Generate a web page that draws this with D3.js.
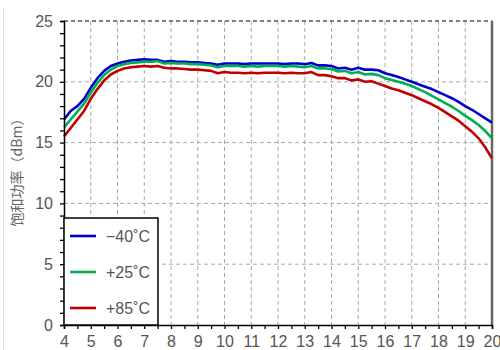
<!DOCTYPE html>
<html>
<head>
<meta charset="utf-8">
<script src="https://cdn.jsdelivr.net/npm/d3@7"></script>
<style>
  body { margin: 0; background: #fff; }
  text { font-family: "Liberation Sans", Arial, sans-serif; }
</style>
</head>
<body>
<svg id="svg"></svg>
<script>
const width = 500;
const height = 350;
const margin = { top: 21, right: 8, bottom: 25, left: 64 };

// frequency (GHz), 0.25 step
const freq = d3.range(0, 65).map(i => 4 + i * 0.25);

const series40 = [16.9, 17.6, 18.0, 18.6, 19.5, 20.3, 20.9, 21.3, 21.5, 21.65, 21.75, 21.8, 21.85, 21.8, 21.8, 21.65,
  21.7, 21.65, 21.65, 21.6, 21.6, 21.55, 21.5, 21.4, 21.5, 21.5, 21.5, 21.45, 21.5, 21.5, 21.5, 21.5,
  21.5, 21.45, 21.5, 21.5, 21.45, 21.55, 21.35, 21.35, 21.3, 21.1, 21.15, 21.0, 21.15, 21.0, 21.0, 20.95,
  20.7, 20.55, 20.4, 20.2, 20.0, 19.8, 19.6, 19.4, 19.15, 18.9, 18.65, 18.35, 18.0, 17.7, 17.35, 17.0, 16.65];

const series25 = [16.25, 16.9, 17.55, 18.2, 19.1, 19.9, 20.55, 21.0, 21.3, 21.45, 21.55, 21.6, 21.65, 21.65, 21.7, 21.5,
  21.55, 21.5, 21.5, 21.45, 21.45, 21.4, 21.35, 21.2, 21.3, 21.3, 21.3, 21.25, 21.3, 21.25, 21.3, 21.3,
  21.3, 21.25, 21.3, 21.25, 21.2, 21.3, 21.1, 21.1, 21.05, 20.85, 20.9, 20.7, 20.8, 20.6, 20.65, 20.55,
  20.3, 20.15, 20.0, 19.85, 19.65, 19.4, 19.15, 18.85, 18.55, 18.25, 17.95, 17.6, 17.2, 16.85, 16.45, 15.95, 15.35];

const series85 = [15.5, 16.2, 16.9, 17.6, 18.6, 19.4, 20.1, 20.6, 20.9, 21.1, 21.2, 21.25, 21.3, 21.25, 21.3, 21.15,
  21.1, 21.1, 21.05, 21.0, 21.0, 20.95, 20.9, 20.7, 20.8, 20.75, 20.75, 20.7, 20.75, 20.7, 20.75, 20.75,
  20.75, 20.7, 20.75, 20.7, 20.7, 20.8, 20.55, 20.55, 20.45, 20.3, 20.3, 20.1, 20.2, 20.0, 20.05, 19.85,
  19.65, 19.45, 19.3, 19.1, 18.9, 18.65, 18.4, 18.15, 17.85, 17.5, 17.15, 16.8, 16.35, 15.9, 15.35, 14.6, 13.7];

const seriesNames = ["\u221240\u02DAC", "+25\u02DAC", "+85\u02DAC"];
const seriesColors = ["#0000cc", "#00b050", "#c00000"];
const xTicks = d3.range(4, 21, 1);
const yTicks = [0, 5, 10, 15, 20, 25];

const allSeries = [series40, series25, series85];

let svg = d3.select("#svg")
    .attr("width", width)
    .attr("height", height);

let xScale = d3.scaleLinear()
    .domain([4, 20])
    .range([margin.left, width - margin.right]);

let yScale = d3.scaleLinear()
    .domain([0, 25])
    .range([height - margin.bottom, margin.top]);

// faint panel edge on the left
svg.append("line")
    .attr("x1", 3.5).attr("x2", 3.5)
    .attr("y1", 8).attr("y2", height)
    .attr("stroke", "#e0e0e0");

// grid
svg.append("g")
    .selectAll("line")
    .data(xTicks.slice(1, -1))
    .enter()
    .append("line")
        .attr("x1", d => xScale(d)).attr("x2", d => xScale(d))
        .attr("y1", yScale(25)).attr("y2", yScale(0))
        .attr("stroke", "#a8a8a8")
        .attr("stroke-dasharray", "4,3");

svg.append("g")
    .selectAll("line")
    .data(yTicks.slice(1, -1))
    .enter()
    .append("line")
        .attr("x1", xScale(4)).attr("x2", xScale(20))
        .attr("y1", d => yScale(d)).attr("y2", d => yScale(d))
        .attr("stroke", "#a8a8a8")
        .attr("stroke-dasharray", "4,3");

// top border dashed, right border solid
svg.append("line")
    .attr("x1", xScale(4)).attr("x2", xScale(20))
    .attr("y1", yScale(25)).attr("y2", yScale(25))
    .attr("stroke", "#555")
    .attr("stroke-width", 1.5)
    .attr("stroke-dasharray", "4,3");

svg.append("line")
    .attr("x1", xScale(20)).attr("x2", xScale(20))
    .attr("y1", yScale(25)).attr("y2", yScale(0))
    .attr("stroke", "#666")
    .attr("stroke-width", 2.5);

// lines
let line = d3.line()
    .x((d, i) => xScale(freq[i]))
    .y(d => yScale(d));

svg.append("g")
    .selectAll("path")
    .data(allSeries)
    .enter()
    .append("path")
        .attr("d", d => line(d))
        .attr("fill", "none")
        .attr("stroke", (d, i) => seriesColors[i])
        .attr("stroke-width", 2.6)
        .attr("stroke-linejoin", "round");

// x axis
let xAxis = svg.append("g")
    .attr("transform", `translate(0, ${yScale(0)})`)
    .call(d3.axisBottom(xScale).tickValues(d3.range(4, 20.01, 0.5)).tickSize(4).tickFormat(d => Number.isInteger(d) ? d : ""));
xAxis.select(".domain").attr("stroke", "#000").attr("stroke-width", 1.5);
xAxis.selectAll("line").attr("stroke", "#000").attr("stroke-width", 1.3);
xAxis.selectAll("text")
    .attr("dy", "0.95em")
    .attr("font-size", "16px")
    .style("fill", "#555");

// y axis
let yAxis = svg.append("g")
    .attr("transform", `translate(${xScale(4)}, 0)`)
    .call(d3.axisLeft(yScale).tickValues(d3.range(0, 25.01, 1)).tickSize(4).tickPadding(7).tickFormat(d => d % 5 === 0 ? d : ""));
yAxis.select(".domain").attr("stroke", "#000").attr("stroke-width", 1.5);
yAxis.selectAll("line").attr("stroke", "#000").attr("stroke-width", 1.3);
yAxis.selectAll("text")
    .attr("font-size", "16px")
    .style("fill", "#555");

// y axis label
svg.append("text")
    .text("饱和功率（dBm）")
    .attr("transform", "rotate(-90)")
    .attr("x", -169)
    .attr("y", 22)
    .attr("text-anchor", "middle")
    .attr("font-size", "14px")
    .style("font-family", "'Noto Sans CJK SC', sans-serif")
    .style("fill", "#666");

// legend
let legend = svg.append("g");
legend.append("rect")
    .attr("x", xScale(4))
    .attr("y", 218)
    .attr("width", 94)
    .attr("height", yScale(0) - 218)
    .attr("fill", "#fff")
    .attr("stroke", "#000")
    .attr("stroke-width", 1.5);

seriesNames.forEach((name, i) => {
    let ly = 236 + i * 36;
    legend.append("line")
        .attr("x1", 70).attr("x2", 96)
        .attr("y1", ly).attr("y2", ly)
        .attr("stroke", seriesColors[i])
        .attr("stroke-width", 2.6);
    legend.append("text")
        .text(name)
        .attr("x", 106)
        .attr("y", ly + 6)
        .attr("font-size", "16px")
        .style("fill", "#555");
});
</script>
</body>
</html>
